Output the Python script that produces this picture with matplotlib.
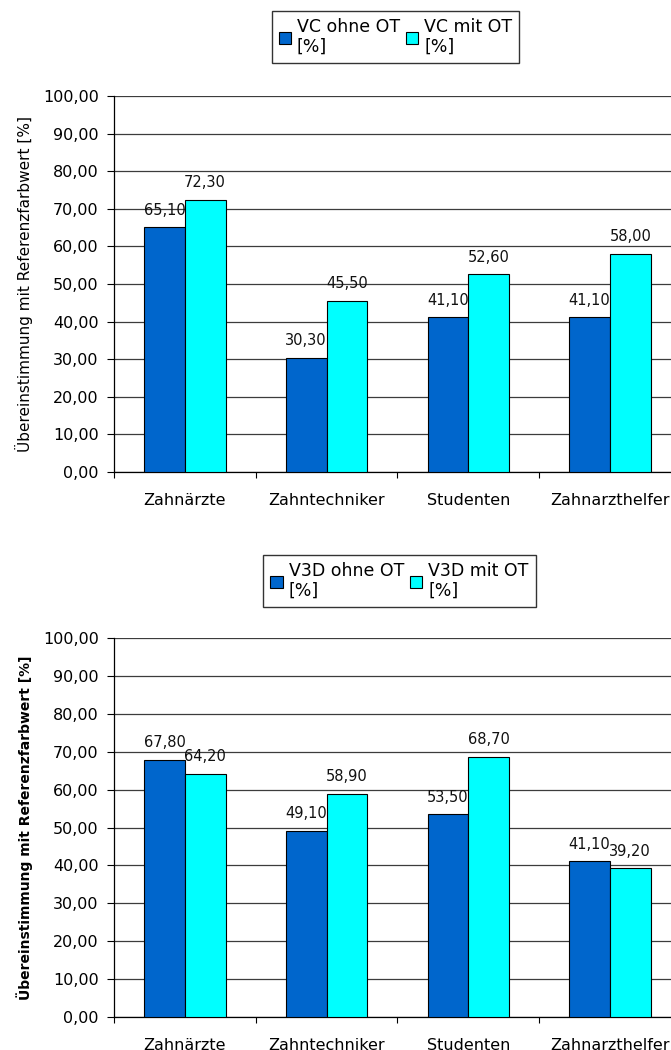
import numpy as np
import matplotlib
matplotlib.use("Agg")
import matplotlib.pyplot as plt
from matplotlib.patches import Rectangle
from matplotlib.legend_handler import HandlerPatch
from matplotlib.ticker import FuncFormatter, FixedLocator

groups = ["Zahnärzte", "Zahntechniker", "Studenten", "Zahnarzthelfer"]

vc_ohne = [65.10, 30.30, 41.10, 41.10]
vc_mit = [72.30, 45.50, 52.60, 58.00]
v3d_ohne = [67.80, 49.10, 53.50, 41.10]
v3d_mit = [64.20, 58.90, 68.70, 39.20]

top_labels = ["VC ohne OT\n[%]", "VC mit OT\n[%]"]
bottom_labels = ["V3D ohne OT\n[%]", "V3D mit OT\n[%]"]
y_title = "Übereinstimmung mit Referenzfarbwert [%]"

DARK_BLUE = "#0066cc"
CYAN = "#00ffff"
GRID = "#3c3c3c"

plt.rcParams["font.family"] = "DejaVu Sans"

W, H = 671, 1050
fig = plt.figure(figsize=(W / 100, H / 100), dpi=100)


def comma(v, _pos=None):
    return f"{v:.2f}".replace(".", ",")


def square_top(legend, orig_handle, xdescent, ydescent, width, height, fontsize):
    # small square sitting on the first line of a two-line label
    s = 0.5 * fontsize
    return Rectangle((-xdescent + 0.1 * fontsize, -ydescent + 1.4 * fontsize),
                     s, s)


def draw_panel(rect, a, b, labels, bold_ylabel, legend_center):
    ax = fig.add_axes(rect)
    x = np.arange(len(groups))
    w = 0.287
    r1 = ax.bar(x - w / 2, a, w, color=DARK_BLUE, edgecolor="black",
                linewidth=0.8, label=labels[0], zorder=3)
    r2 = ax.bar(x + w / 2, b, w, color=CYAN, edgecolor="black",
                linewidth=0.8, label=labels[1], zorder=3)
    for rects, vals in ((r1, a), (r2, b)):
        ax.bar_label(rects, labels=[comma(v) for v in vals], padding=7,
                     fontsize=10.5, color="#111111", zorder=4)

    ax.set_xlim(-0.5, len(groups) - 0.5)
    ax.set_ylim(0, 100)
    ax.set_yticks(np.arange(0, 101, 10))
    ax.yaxis.set_major_formatter(FuncFormatter(comma))
    ax.tick_params(axis="y", direction="out", length=5, width=0.8,
                   pad=6, labelsize=11.5)
    ax.set_xticks(x)
    ax.set_xticklabels(groups)
    ax.tick_params(axis="x", which="major", length=0, pad=15, labelsize=11.5)
    ax.xaxis.set_minor_locator(FixedLocator(np.arange(-0.5, len(groups), 1.0)))
    ax.tick_params(axis="x", which="minor", direction="out", length=4,
                   width=0.8)

    ax.grid(axis="y", color=GRID, linewidth=0.9, zorder=0)
    for side in ("top", "right"):
        ax.spines[side].set_visible(False)
    for side in ("left", "bottom"):
        ax.spines[side].set_linewidth(0.9)
        ax.spines[side].set_color("black")

    if bold_ylabel:
        ax.set_ylabel(y_title, fontsize=10, fontweight="bold")
    else:
        ax.set_ylabel(y_title, fontsize=11)
    ax.yaxis.set_label_coords(-0.143, 0.5)

    leg = fig.legend(handles=[r1, r2], labels=labels, loc="center",
                     bbox_to_anchor=legend_center, ncol=2, fontsize=12.5,
                     frameon=True, fancybox=False, edgecolor="black",
                     handlelength=0.7, handleheight=0.7, handletextpad=0.35,
                     columnspacing=0.35, borderpad=0.4, borderaxespad=0,
                     handler_map={Rectangle: HandlerPatch(patch_func=square_top)})
    leg.get_frame().set_linewidth(1.0)
    for t in leg.get_texts():
        t.set_linespacing(1.15)
    return ax


ax_w = 4 * 141.7 / W
draw_panel([114 / W, 1 - 472 / H, ax_w, (472 - 96) / H],
           vc_ohne, vc_mit, top_labels, False, (395.5 / W, 1 - 37 / H))
draw_panel([114 / W, 1 - 1017 / H, ax_w, (1017 - 638) / H],
           v3d_ohne, v3d_mit, bottom_labels, True, (399.5 / W, 1 - 581 / H))

fig.savefig("out.png", dpi=100)
